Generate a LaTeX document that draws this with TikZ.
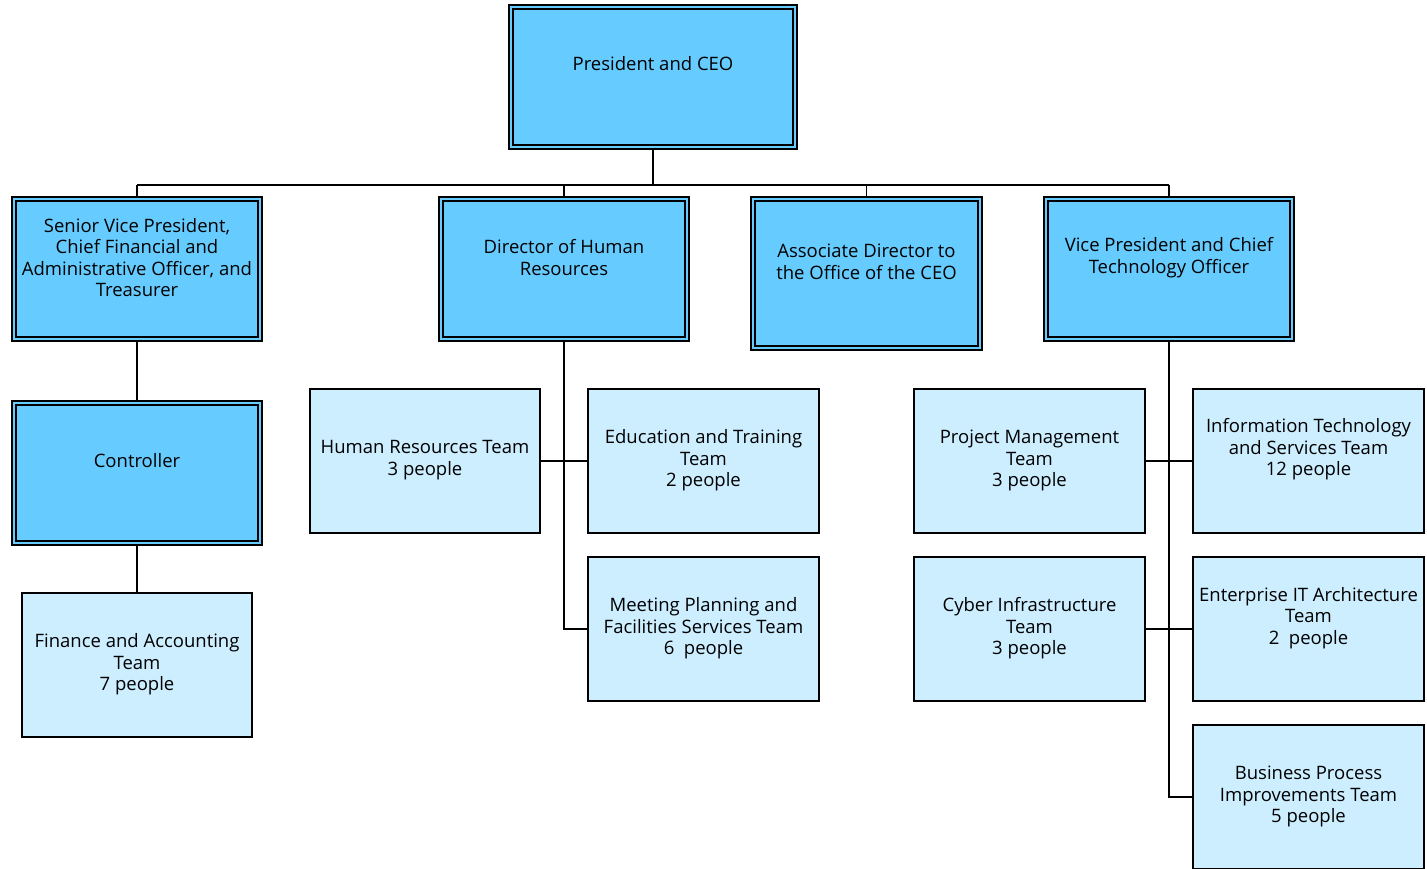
\documentclass[tikz,border=0pt]{standalone}
\usepackage{fontspec}
\setmainfont{Open Sans}
\usetikzlibrary{calc}
\definecolor{darkb}{HTML}{66CCFF}
\definecolor{lightb}{HTML}{CCEEFF}
\tikzset{
  dark/.style={draw=black, line width=1.6pt, fill=darkb, inner sep=0pt},
  light/.style={draw=black, line width=1.4pt, fill=lightb, inner sep=0pt},
  txt/.style={align=center, inner sep=0pt, font=\fontsize{18.5}{21.6}\selectfont},
  conn/.style={draw=black, line width=1.8pt},
}
\newcommand{\innerbox}[1]{\draw[line width=1.6pt] ($(#1.south west)+(5,5)$) rectangle ($(#1.north east)+(-5,-5)$);}
\begin{document}
\begin{tikzpicture}[x=1pt,y=1pt]
\useasboundingbox (0,0) rectangle (1427,-869);
% connectors
\coordinate (bus) at (653,-185);
\draw[conn] (653,-149) -- (bus);
\draw[conn] (137,-185) -- (1169,-185);
% boxes
\node[dark, minimum width=288, minimum height=144] (ceo) at (653,-77) {};
\node[dark, minimum width=250, minimum height=144] (svp) at (137,-269) {};
\node[dark, minimum width=250, minimum height=144] (dhr) at (564,-269) {};
\node[dark, minimum width=231, minimum height=153] (adc) at (866.5,-273.5) {};
\node[dark, minimum width=250, minimum height=144] (vpt) at (1169,-269) {};
\node[dark, minimum width=250, minimum height=144] (ctl) at (137,-473) {};
\foreach \n in {ceo,svp,dhr,adc,vpt,ctl} {\innerbox{\n}}
\node[light, minimum width=230, minimum height=144] (fin) at (137,-665) {};
\node[light, minimum width=230, minimum height=144] (hrt) at (425,-461) {};
\node[light, minimum width=231, minimum height=144] (edu) at (703.5,-461) {};
\node[light, minimum width=231, minimum height=144] (mtg) at (703.5,-629) {};
\node[light, minimum width=231, minimum height=144] (pmt) at (1029.5,-461) {};
\node[light, minimum width=231, minimum height=144] (its) at (1308.5,-461) {};
\node[light, minimum width=231, minimum height=144] (cyb) at (1029.5,-629) {};
\node[light, minimum width=231, minimum height=144] (eat) at (1308.5,-629) {};
\node[light, minimum width=231, minimum height=144] (bpi) at (1308.5,-797) {};
% connectors between boxes
\draw[conn] (svp.south) -- (ctl.north);
\draw[conn] (ctl.south) -- (fin.north);
\draw[conn] (svp.north) -- (svp.north |- bus);
\draw[conn] (dhr.north) -- (dhr.north |- bus);
\draw[conn] (adc.north) -- (adc.north |- bus);
\draw[conn] (vpt.north) -- (vpt.north |- bus);
\draw[conn] (dhr.south) -- (dhr.south |- mtg.west) -- (mtg.west);
\draw[conn] (hrt.east) -- (edu.west);
\draw[conn] (vpt.south) -- (vpt.south |- bpi.west) -- (bpi.west);
\draw[conn] (pmt.east) -- (its.west);
\draw[conn] (cyb.east) -- (eat.west);
% texts
\node[txt] (ceo-t) at (653,-64) {President and CEO};
\node[txt] (svp-t) at (137,-257.5) {Senior Vice President,\\Chief Financial and\\Administrative Officer, and\\Treasurer};
\node[txt] (dhr-t) at (564,-257.5) {Director of Human\\Resources};
\node[txt] (adc-t) at (866.5,-262) {Associate Director to\\the Office of the CEO};
\node[txt] (vpt-t) at (1169,-257.5) {Vice President and Chief\\Technology Officer};
\node[txt] (ctl-t) at (137,-461) {Controller};
\node[txt] (fin-t) at (137,-664.5) {Finance and Accounting\\Team\\7 people};
\node[txt] (hrt-t) at (425,-460) {Human Resources Team\\3 people};
\node[txt] (edu-t) at (703.5,-460.5) {Education and Training\\Team\\2 people};
\node[txt] (mtg-t) at (703.5,-628.5) {Meeting Planning and\\Facilities Services Team\\6\ \ people};
\node[txt] (pmt-t) at (1029.5,-460.5) {Project Management\\Team\\3 people};
\node[txt] (its-t) at (1308.5,-449.5) {Information Technology\\and Services Team\\12 people};
\node[txt] (cyb-t) at (1029.5,-628.5) {Cyber Infrastructure\\Team\\3 people};
\node[txt] (eat-t) at (1308.5,-618) {Enterprise IT Architecture\\Team\\2\ \ people};
\node[txt] (bpi-t) at (1308.5,-796.5) {Business Process\\Improvements Team\\5 people};
\end{tikzpicture}
\end{document}
